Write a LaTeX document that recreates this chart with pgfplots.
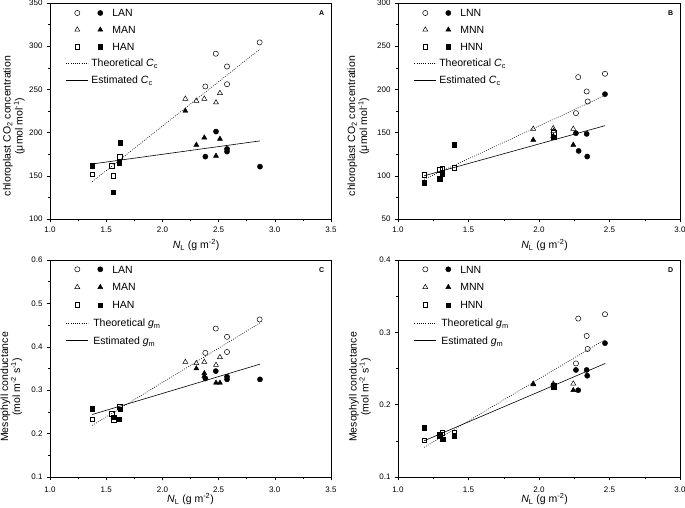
\documentclass[border=0pt]{standalone}
\usepackage{fontspec}
\setmainfont{Liberation Sans}
\usepackage{pgfplots}
\pgfplotsset{compat=1.18}

\pgfplotsset{
  panel/.style={
    scale only axis,
    axis line style={line width=0.6pt},
    tick style={line width=0.5pt, black},
    xtick pos=left, ytick pos=left,
    tick align=outside,
    minor x tick num=1, minor y tick num=1,
    major tick length=3.3pt, minor tick length=2pt,
    tick label style={font=\fontsize{8}{9}\selectfont, inner sep=1pt},
    yticklabel style={xshift=-3pt},
    /pgf/number format/assume math mode=true,
    xticklabel style={/pgf/number format/fixed, /pgf/number format/fixed zerofill, /pgf/number format/precision=1},
    label style={font=\fontsize{10.5}{12}\selectfont},
    ylabel style={align=center, anchor=center},
    xlabel style={anchor=center, inner sep=0pt},
    legend cell align=left,
    legend style={draw=none, fill=none, inner sep=0pt, outer sep=0pt,
      at={(axis description cs:0,1)}, anchor=north west, xshift=16pt,
      font=\fontsize{10.5}{12}\selectfont, column sep=9.4pt,
      nodes={inner sep=0pt, text height=7.5pt, text depth=0pt}},
  },
  oc/.style={only marks, mark=o, mark size=2.6pt, black, mark options={line width=0.5pt}, forget plot},
  fc/.style={only marks, mark=*, mark size=2.6pt, black, forget plot},
  ot/.style={only marks, mark=triangle, mark size=2.9pt, black, mark options={line width=0.5pt}, forget plot},
  ft/.style={only marks, mark=triangle*, mark size=2.9pt, black, forget plot},
  os/.style={only marks, mark=square, mark size=2.3pt, black, mark options={line width=0.5pt}, forget plot},
  fs/.style={only marks, mark=square*, mark size=2.3pt, black, forget plot},
  theo/.style={black, line width=0.6pt, dash pattern=on 0.8pt off 1.4pt, forget plot},
  esti/.style={black, line width=0.6pt, forget plot},
  pairleg/.style n args={3}{legend image code/.code={
      \draw[black, line width=0.5pt] plot[mark=#1, mark size=#3] coordinates {(0pt,0pt)};
      \draw[black] plot[mark=#2, mark size=#3] coordinates {(23pt,0pt)};}},
  lineleg/.style={legend image code/.code={\draw[#1] (-11pt,0pt) -- (11pt,0pt);}},
}

\newcommand{\panelletter}[1]{\node[font=\bfseries\fontsize{7}{8}\selectfont] at (axis description cs:0.967,0.953) {#1};}

\begin{document}
\begin{tikzpicture}[x=1pt,y=1pt]

% ---------------- Panel A ----------------
\begin{axis}[panel, at={(50pt,288pt)}, anchor=south west, width=281pt, height=216pt,
  xmin=1, xmax=3.5, xtick={1,1.5,2,2.5,3,3.5},
  ymin=100, ymax=350, ytick={100,150,200,250,300,350},
  xlabel={\textit{N}\textsubscript{L} (g m\textsuperscript{-2})},
  ylabel={chloroplast CO\textsubscript{2} concentration\\(μmol mol\textsuperscript{-1})},
  xlabel style={at={(axis description cs:0.52,-0.12)}},
  ylabel style={at={(axis description cs:-0.128,0.43)}},
  xticklabel style={yshift=-3.5pt},
  legend style={yshift=-6.25pt, row sep=9.25pt}]
\addlegendimage{pairleg={o}{*}{2.6pt}}\addlegendentry{LAN}
\addlegendimage{pairleg={triangle}{triangle*}{2.9pt}}\addlegendentry{MAN}
\addlegendimage{pairleg={square}{square*}{2.3pt}}\addlegendentry{HAN}
\addlegendimage{lineleg={black, line width=0.6pt, dash pattern=on 0.8pt off 1.4pt}}\addlegendentry{\hspace*{-21pt}Theoretical \textit{C}\textsubscript{c}}
\addlegendimage{lineleg={black, line width=0.6pt}}\addlegendentry{\hspace*{-21pt}Estimated \textit{C}\textsubscript{c}}
\addplot[theo] coordinates {(1.376,143.3) (2.868,296.7)};
\addplot[esti] coordinates {(1.376,163.7) (2.868,190.4)};
\addplot[oc] coordinates {(2.865,304.4) (2.475,291.3) (2.575,276.5) (2.382,253.4) (2.575,256)};
\addplot[fc] coordinates {(2.477,201.2) (2.382,172.2) (2.575,181.1) (2.575,178) (2.868,160.6)};
\addplot[ot] coordinates {(2.204,239.1) (2.302,236.8) (2.373,239.1) (2.512,245.7) (2.477,234.8)};
\addplot[ft] coordinates {(2.204,225.2) (2.302,185.8) (2.373,194.2) (2.512,192.7) (2.477,173)};
\addplot[os] coordinates {(1.376,151.8) (1.549,161.4) (1.563,150.2) (1.623,172.2)};
\addplot[fs] coordinates {(1.376,161.4) (1.563,131) (1.623,188.4) (1.617,165.3)};
\panelletter{A}
\end{axis}

% ---------------- Panel B ----------------
\begin{axis}[panel, at={(398pt,288pt)}, anchor=south west, width=282pt, height=216pt,
  xmin=1, xmax=3, xtick={1,1.5,2,2.5,3},
  ymin=50, ymax=300, ytick={50,100,150,200,250,300},
  xlabel={\textit{N}\textsubscript{L} (g m\textsuperscript{-2})},
  ylabel={chloroplast CO\textsubscript{2} concentration\\(μmol mol\textsuperscript{-1})},
  xlabel style={at={(axis description cs:0.52,-0.12)}},
  ylabel style={at={(axis description cs:-0.14,0.43)}},
  xticklabel style={yshift=-3.5pt},
  legend style={yshift=-6.25pt, row sep=9.25pt}]
\addlegendimage{pairleg={o}{*}{2.6pt}}\addlegendentry{LNN}
\addlegendimage{pairleg={triangle}{triangle*}{2.9pt}}\addlegendentry{MNN}
\addlegendimage{pairleg={square}{square*}{2.3pt}}\addlegendentry{HNN}
\addlegendimage{lineleg={black, line width=0.6pt, dash pattern=on 0.8pt off 1.4pt}}\addlegendentry{\hspace*{-21pt}Theoretical \textit{C}\textsubscript{c}}
\addlegendimage{lineleg={black, line width=0.6pt}}\addlegendentry{\hspace*{-21pt}Estimated \textit{C}\textsubscript{c}}
\addplot[theo] coordinates {(1.185,96) (2.468,193)};
\addplot[esti] coordinates {(1.185,100) (2.468,158)};
\addplot[oc] coordinates {(2.278,214.2) (2.468,218.1) (2.338,197.6) (2.345,186) (2.262,172.5)};
\addplot[fc] coordinates {(2.468,194.5) (2.262,149.3) (2.338,148.5) (2.281,128.8) (2.342,122.3)};
\addplot[ot] coordinates {(1.959,154.3) (2.101,155) (2.104,152) (2.243,154.3)};
\addplot[ft] coordinates {(1.959,141.6) (2.101,146) (2.243,135.8)};
\addplot[os] coordinates {(1.185,101) (1.296,106.8) (1.313,108.8) (1.398,109.5) (2.106,150)};
\addplot[fs] coordinates {(1.185,92.1) (1.296,96.4) (1.313,102.2) (1.398,135.8) (2.104,144.5)};
\panelletter{B}
\end{axis}

% ---------------- Panel C ----------------
\begin{axis}[panel, at={(50pt,30pt)}, anchor=south west, width=281pt, height=217pt,
  xmin=1, xmax=3.5, xtick={1,1.5,2,2.5,3,3.5},
  ymin=0.1, ymax=0.6, ytick={0.1,0.2,0.3,0.4,0.5,0.6},
  yticklabel style={/pgf/number format/fixed, /pgf/number format/fixed zerofill, /pgf/number format/precision=1},
  xlabel={\textit{N}\textsubscript{L} (g m\textsuperscript{-2})},
  ylabel={Mesophyll conductance\\(mol m\textsuperscript{-2} s\textsuperscript{-1})},
  xlabel style={at={(axis description cs:0.5,-0.101)}},
  ylabel style={at={(axis description cs:-0.137,0.415)}},
  xticklabel style={yshift=-5pt},
  legend style={yshift=-5.55pt, row sep=10.35pt}]
\addlegendimage{pairleg={o}{*}{2.6pt}}\addlegendentry{LAN}
\addlegendimage{pairleg={triangle}{triangle*}{2.9pt}}\addlegendentry{MAN}
\addlegendimage{pairleg={square}{square*}{2.3pt}}\addlegendentry{HAN}
\addlegendimage{lineleg={black, line width=0.6pt, dash pattern=on 0.8pt off 1.4pt}}\addlegendentry{\hspace*{-19pt}Theoretical \textit{g}\textsubscript{m}}
\addlegendimage{lineleg={black, line width=0.6pt}}\addlegendentry{\hspace*{-19pt}Estimated \textit{g}\textsubscript{m}}
\addplot[theo] coordinates {(1.376,0.219) (2.868,0.455)};
\addplot[esti] coordinates {(1.376,0.244) (2.868,0.360)};
\addplot[oc] coordinates {(2.865,0.463) (2.475,0.442) (2.575,0.423) (2.382,0.386) (2.575,0.388)};
\addplot[fc] coordinates {(2.475,0.344) (2.382,0.327) (2.575,0.331) (2.575,0.325) (2.868,0.325)};
\addplot[ot] coordinates {(2.204,0.365) (2.302,0.362) (2.373,0.365) (2.512,0.376) (2.477,0.358)};
\addplot[ft] coordinates {(2.302,0.350) (2.373,0.339) (2.373,0.333) (2.477,0.317) (2.512,0.317)};
\addplot[os] coordinates {(1.376,0.233) (1.549,0.246) (1.569,0.231) (1.623,0.262)};
\addplot[fs] coordinates {(1.376,0.258) (1.569,0.238) (1.617,0.233) (1.623,0.256)};
\panelletter{C}
\end{axis}

% ---------------- Panel D ----------------
\begin{axis}[panel, at={(398pt,30pt)}, anchor=south west, width=282pt, height=217pt,
  xmin=1, xmax=3, xtick={1,1.5,2,2.5,3},
  ymin=0.1, ymax=0.4, ytick={0.1,0.2,0.3,0.4},
  yticklabel style={/pgf/number format/fixed, /pgf/number format/fixed zerofill, /pgf/number format/precision=1},
  xlabel={\textit{N}\textsubscript{L} (g m\textsuperscript{-2})},
  ylabel={Mesophyll conductance\\(mol m\textsuperscript{-2} s\textsuperscript{-1})},
  xlabel style={at={(axis description cs:0.52,-0.103)}},
  ylabel style={at={(axis description cs:-0.135,0.415)}},
  xticklabel style={yshift=-5pt},
  legend style={yshift=-5.55pt, row sep=10.35pt}]
\addlegendimage{pairleg={o}{*}{2.6pt}}\addlegendentry{LNN}
\addlegendimage{pairleg={triangle}{triangle*}{2.9pt}}\addlegendentry{MNN}
\addlegendimage{pairleg={square}{square*}{2.3pt}}\addlegendentry{HNN}
\addlegendimage{lineleg={black, line width=0.6pt, dash pattern=on 0.8pt off 1.4pt}}\addlegendentry{\hspace*{-19pt}Theoretical \textit{g}\textsubscript{m}}
\addlegendimage{lineleg={black, line width=0.6pt}}\addlegendentry{\hspace*{-19pt}Estimated \textit{g}\textsubscript{m}}
\addplot[theo] coordinates {(1.185,0.141) (2.468,0.290)};
\addplot[esti] coordinates {(1.185,0.150) (2.470,0.257)};
\addplot[oc] coordinates {(2.278,0.319) (2.468,0.325) (2.338,0.295) (2.345,0.277) (2.262,0.257)};
\addplot[fc] coordinates {(2.468,0.285) (2.262,0.248) (2.338,0.248) (2.342,0.240) (2.278,0.220)};
\addplot[ot] coordinates {(1.959,0.229) (2.101,0.229) (2.108,0.225) (2.243,0.229)};
\addplot[ft] coordinates {(1.959,0.228) (2.101,0.227) (2.243,0.220)};
\addplot[os] coordinates {(1.185,0.151) (1.296,0.159) (1.315,0.161) (1.398,0.162) (2.104,0.224)};
\addplot[fs] coordinates {(1.185,0.168) (1.296,0.157) (1.315,0.152) (1.398,0.157) (2.106,0.226)};
\panelletter{D}
\end{axis}

\pgfresetboundingbox
\useasboundingbox (0pt,0pt) rectangle (685pt,507pt);
\end{tikzpicture}
\end{document}
